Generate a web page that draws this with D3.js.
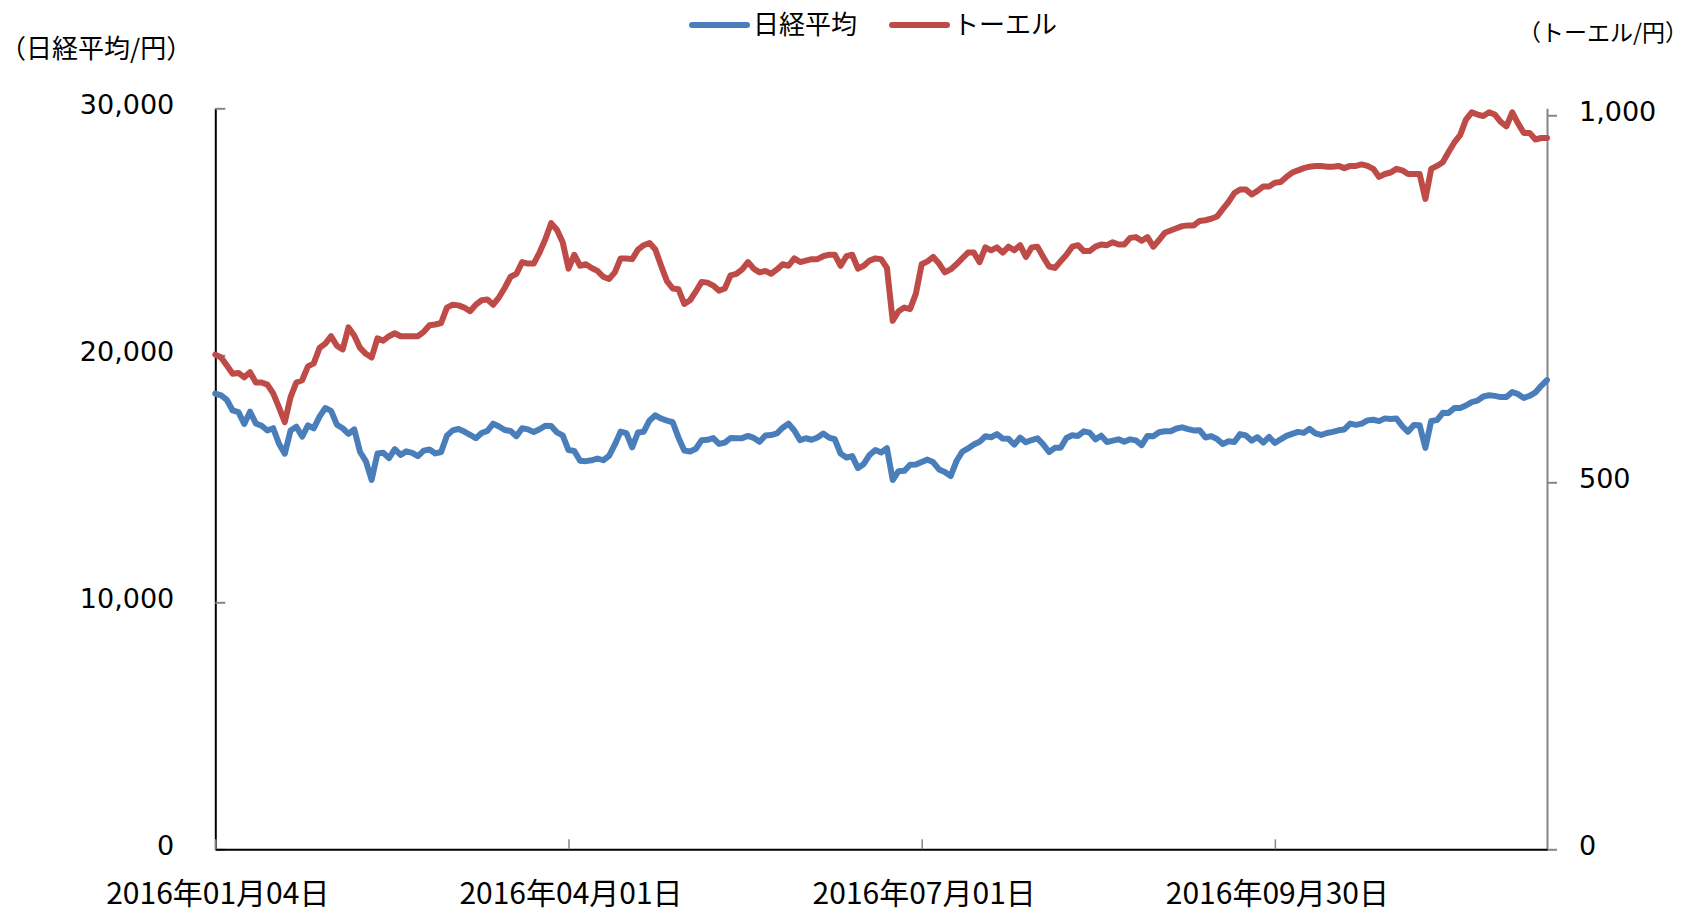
<!DOCTYPE html>
<html>
<head>
<meta charset="utf-8">
<script src="https://cdn.jsdelivr.net/npm/d3@7"></script>
<style>
	body { margin: 0; background: #fff; }
	text { fill: #000; }
</style>
</head>
<body>
<div id="chart"></div>
<script>
// 2016 trading days (Jan 4 .. Dec 9), one value per day
var nikkei = [
	18451, 18374, 18191, 17767, 17698, 17219, 17716, 17241, 17147, 16956, 17048, 16416, 16017, 16959, 17111, 16709, 17164, 17041, 17518,
	17865, 17751, 17191, 17045, 16820, 17004, 16085, 15713, 14953, 16023, 16054, 15836, 16197, 15967, 16111, 16052, 15916, 16140, 16188, 16027,
	16086, 16747, 16960, 17015, 16911, 16783, 16642, 16852, 16939, 17234, 17117, 16974, 16936, 16725, 17049, 17001, 16892, 17003, 17151, 17134, 16879, 16759,
	16164, 16123, 15733, 15715, 15750, 15822, 15751, 15929, 16381, 16911, 16848, 16276, 16874, 16907, 17364, 17572, 17439, 17353, 17290, 16666,
	16147, 16107, 16216, 16565, 16579, 16647, 16412, 16466, 16653, 16645, 16646, 16736, 16655, 16499, 16757, 16772, 16835, 17068, 17235,
	16956, 16563, 16642, 16580, 16675, 16831, 16668, 16601, 16019, 15859, 15920, 15434, 15600, 15965, 16169, 16066, 16238, 14952, 15309, 15323, 15567, 15576,
	15682, 15776, 15669, 15379, 15276, 15107, 15709, 16096, 16231, 16386, 16498, 16723, 16682, 16810, 16627, 16620, 16383, 16665, 16477, 16569,
	16636, 16391, 16083, 16255, 16254, 16651, 16765, 16735, 16920, 16870, 16597, 16746, 16486, 16546, 16598, 16497, 16597, 16556, 16361, 16737, 16725, 16887,
	16927, 16926, 17038, 17082, 17012, 16959, 16966, 16673, 16729, 16614, 16405, 16519, 16492, 16808, 16754, 16545, 16684, 16465, 16694, 16450,
	16599, 16736, 16819, 16899, 16860, 17025, 16840, 16774, 16856, 16900, 16964, 16999, 17235, 17185, 17234, 17365, 17392, 17336, 17446, 17425,
	17442, 17135, 16905, 17177, 17171, 16252, 17344, 17375, 17673, 17668, 17862, 17863, 17967, 18106, 18163, 18333, 18381, 18357, 18307, 18308,
	18513, 18426, 18275, 18361, 18497, 18765, 18996
];

var toell = [
	674, 670, 659, 648, 649, 643, 650, 636, 636, 633,
	621, 602, 582, 616, 636, 639, 658, 662, 683, 689,
	699, 686, 681, 711, 700, 683, 675, 670, 696, 693,
	699, 703, 699, 699, 699, 699, 705, 714, 715, 717,
	738, 742, 741, 738, 733, 742, 748, 749, 742, 752,
	765, 780, 784, 800, 798, 798, 813, 831, 853, 844,
	827, 791, 810, 795, 797, 792, 788, 780, 777, 786,
	805, 805, 804, 817, 823, 826, 817, 795, 774, 764,
	763, 743, 748, 760, 773, 772, 768, 761, 764, 782,
	784, 790, 800, 791, 786, 788, 784, 790, 797, 795,
	805, 800, 802, 804, 804, 808, 810, 810, 795, 808,
	810, 791, 795, 802, 805, 804, 792, 720, 733, 738,
	736, 757, 797, 801, 807, 798, 786, 790, 797, 805,
	813, 813, 800, 820, 816, 820, 813, 821, 816, 823,
	807, 820, 821, 807, 794, 792, 801, 810, 821, 823,
	815, 815, 821, 824, 823, 827, 824, 824, 833, 834,
	829, 834, 821, 830, 840, 843, 846, 849, 850, 850,
	856, 857, 859, 862, 872, 882, 894, 899, 899, 892,
	897, 903, 903, 908, 909, 916, 922, 925, 928, 930,
	931, 931, 930, 930, 931, 928, 931, 931, 933, 931,
	927, 916, 920, 922, 927, 925, 920, 920, 920, 886,
	927, 931, 936, 950, 963, 973, 994, 1004, 1001, 999,
	1004, 1001, 991, 985, 1004, 989, 976, 976, 967, 969, 969
];

var seriesNames = ["日経平均", "トーエル"];
var seriesColors = ["#4a7ebb", "#be4b48"];

// category axis: a label every 61 trading days
var xTickIndex = [0, 61, 122, 183];
var xTickLabels = ["2016年01月04日", "2016年04月01日", "2016年07月01日", "2016年09月30日"];
var leftTicks = [0, 10000, 20000, 30000];
var rightTicks = [0, 500, 1000];

var width = 1704, height = 912;
var plotLeft = 215.3, plotRight = 1547, plotTop = 108.3, plotBottom = 849.3;
var jpFont = "'Noto Sans CJK JP', sans-serif";
var numFont = "'DejaVu Sans', sans-serif";

var svg = d3.select("#chart")
	.append("svg")
	.attr("width", width)
	.attr("height", height);

var x = d3.scaleLinear().domain([0, nikkei.length - 1]).range([plotLeft, plotRight]);
var yLeft = d3.scaleLinear().domain([0, 30000]).range([plotBottom, plotTop]);
var yRight = d3.scaleLinear().domain([0, 1009.5]).range([plotBottom, plotTop]);

//Left axis (ticks point into the plot)
var gLeft = svg.append("g")
	.attr("transform", "translate(" + plotLeft + ",0)")
	.call(d3.axisLeft(yLeft).tickValues(leftTicks).tickSizeInner(-10).tickSizeOuter(0).tickPadding(41)
		.tickFormat(d3.format(",")));
gLeft.select(".domain").attr("stroke", "#000").attr("stroke-width", 2);
gLeft.selectAll(".tick line").attr("stroke", "#868686").attr("stroke-width", 2);
gLeft.selectAll(".tick text")
	.attr("dy", "0.2em")
	.style("font-family", numFont)
	.style("font-size", "27px");

//Right axis
var gRight = svg.append("g")
	.attr("transform", "translate(" + plotRight + ",0)")
	.call(d3.axisRight(yRight).tickValues(rightTicks).tickSizeInner(10).tickSizeOuter(0).tickPadding(22)
		.tickFormat(d3.format(",")));
gRight.select(".domain").attr("stroke", "#868686").attr("stroke-width", 2);
gRight.selectAll(".tick line").attr("stroke", "#868686").attr("stroke-width", 2);
gRight.selectAll(".tick text")
	.attr("dy", "0.2em")
	.style("font-family", numFont)
	.style("font-size", "27px");

//Bottom axis
var gBottom = svg.append("g")
	.attr("transform", "translate(0," + plotBottom + ")")
	.call(d3.axisBottom(x).tickValues(xTickIndex).tickSizeInner(-10).tickSizeOuter(0).tickPadding(33)
		.tickFormat(function(d, i) { return xTickLabels[i]; }));
gBottom.select(".domain").attr("stroke", "#000").attr("stroke-width", 2);
gBottom.selectAll(".tick line").attr("stroke", "#868686").attr("stroke-width", 1.5);
gBottom.selectAll(".tick text")
	.attr("x", 2)
	.style("font-family", jpFont)
	.style("font-size", "30px");

//Axis titles
svg.append("text")
	.attr("x", 0)
	.attr("y", 46)
	.attr("dominant-baseline", "central")
	.style("font-family", jpFont)
	.style("font-size", "26px")
	.text("（日経平均/円）");
svg.append("text")
	.attr("x", 1688)
	.attr("y", 31)
	.attr("text-anchor", "end")
	.attr("dominant-baseline", "central")
	.style("font-family", jpFont)
	.style("font-size", "23px")
	.text("（トーエル/円）");

//Lines
var lineLeft = d3.line()
	.x(function(d, i) { return x(i); })
	.y(function(d) { return yLeft(d); });
var lineRight = d3.line()
	.x(function(d, i) { return x(i); })
	.y(function(d) { return yRight(d); });

svg.append("path")
	.datum(nikkei)
	.attr("d", lineLeft)
	.attr("fill", "none")
	.attr("stroke", seriesColors[0])
	.attr("stroke-width", 6)
	.attr("stroke-linejoin", "round")
	.attr("stroke-linecap", "round");
svg.append("path")
	.datum(toell)
	.attr("d", lineRight)
	.attr("fill", "none")
	.attr("stroke", seriesColors[1])
	.attr("stroke-width", 6)
	.attr("stroke-linejoin", "round")
	.attr("stroke-linecap", "round");

//Legend
var legendX = [692, 892];
for (var i = 0; i < seriesNames.length; i++)
{
	svg.append("line")
		.attr("x1", legendX[i])
		.attr("y1", 25)
		.attr("x2", legendX[i] + 55)
		.attr("y2", 25)
		.attr("stroke", seriesColors[i])
		.attr("stroke-width", 6)
		.attr("stroke-linecap", "round");
	svg.append("text")
		.attr("x", legendX[i] + 61)
		.attr("y", 22)
		.attr("dominant-baseline", "central")
		.style("font-family", jpFont)
		.style("font-size", "26px")
		.text(seriesNames[i]);
}
</script>
</body>
</html>
